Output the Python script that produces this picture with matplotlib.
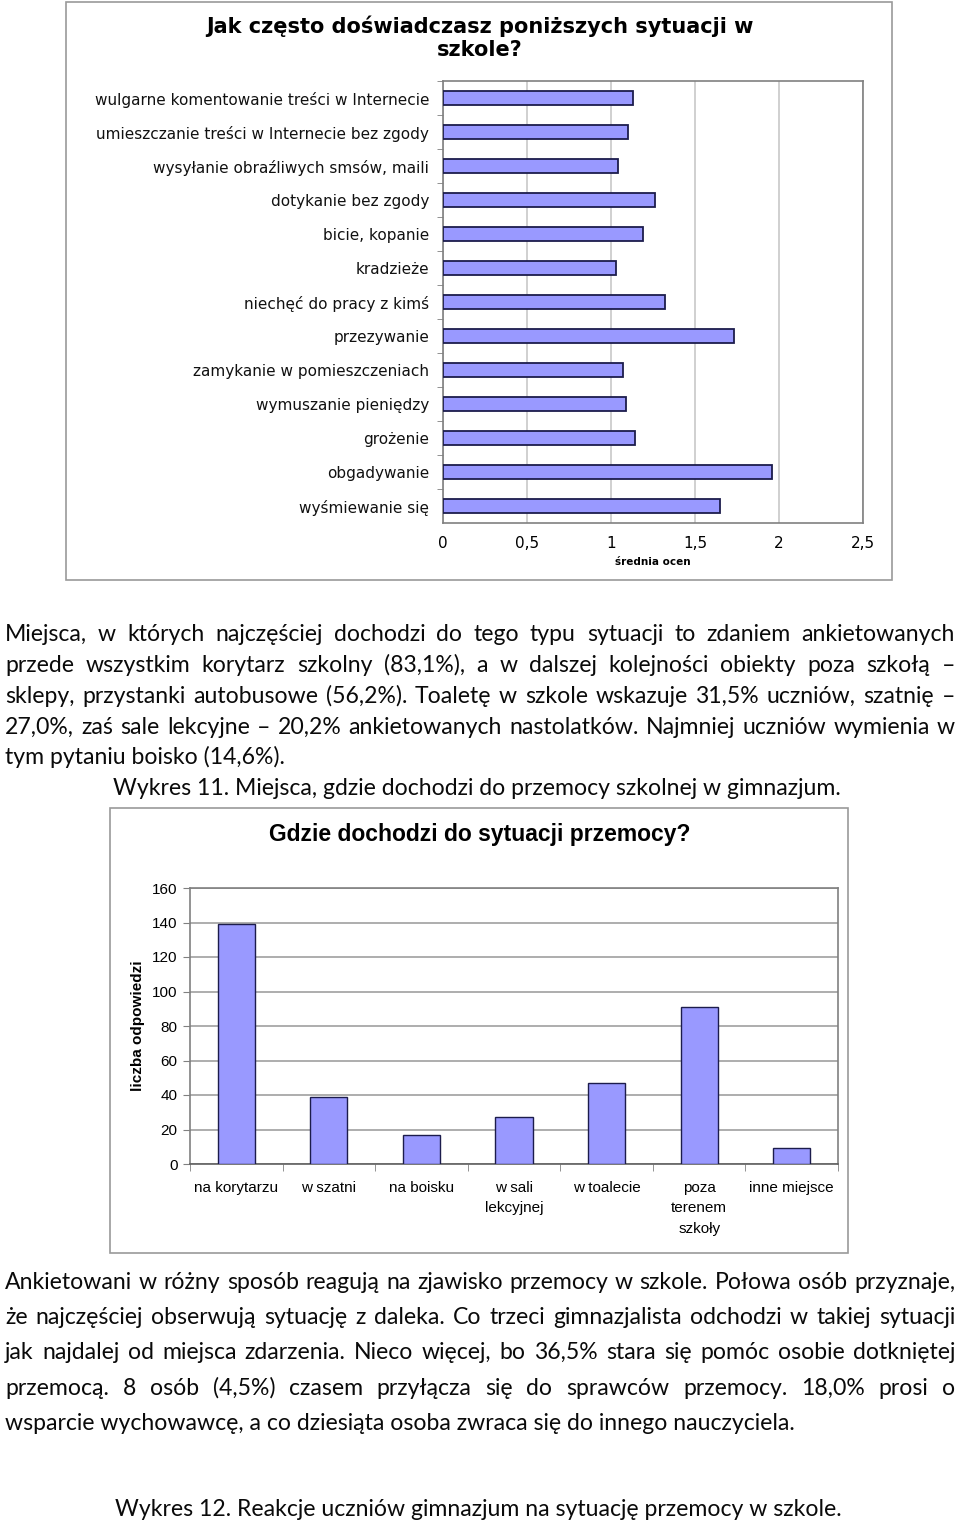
import matplotlib
matplotlib.use("Agg")
import matplotlib.pyplot as plt
from matplotlib.patches import Rectangle

W, H = 960, 1525

# chart 1 data (top to bottom)
sytuacje = ["wulgarne komentowanie treści w Internecie",
            "umieszczanie treści w Internecie bez zgody",
            "wysyłanie obraźliwych smsów, maili",
            "dotykanie bez zgody",
            "bicie, kopanie",
            "kradzieże",
            "niechęć do pracy z kimś",
            "przezywanie",
            "zamykanie w pomieszczeniach",
            "wymuszanie pieniędzy",
            "grożenie",
            "obgadywanie",
            "wyśmiewanie się"]
srednia = [1.13, 1.10, 1.04, 1.26, 1.19, 1.03, 1.32, 1.73, 1.07, 1.09, 1.14, 1.96, 1.65]
x_ticks = [0, 0.5, 1, 1.5, 2, 2.5]
x_labels = ["0", "0,5", "1", "1,5", "2", "2,5"]

# chart 2 data
miejsca = ["na korytarzu", "w szatni", "na boisku", "w sali\nlekcyjnej",
           "w toalecie", "poza\nterenem\nszkoły", "inne miejsce"]
odpowiedzi = [139, 39, 17, 27, 47, 91, 9]

para1 = ["Miejsca, w których najczęściej dochodzi do tego typu sytuacji to zdaniem ankietowanych",
         "przede wszystkim korytarz szkolny (83,1%), a w dalszej kolejności obiekty poza szkołą –",
         "sklepy, przystanki autobusowe (56,2%). Toaletę w szkole wskazuje 31,5% uczniów, szatnię –",
         "27,0%, zaś sale lekcyjne – 20,2% ankietowanych nastolatków. Najmniej uczniów wymienia w",
         "tym pytaniu boisko (14,6%)."]
para2 = ["Ankietowani w różny sposób reagują na zjawisko przemocy w szkole. Połowa osób przyznaje,",
         "że najczęściej obserwują sytuację z daleka. Co trzeci gimnazjalista odchodzi w takiej sytuacji",
         "jak najdalej od miejsca zdarzenia. Nieco więcej, bo 36,5% stara się pomóc osobie dotkniętej",
         "przemocą. 8 osób (4,5%) czasem przyłącza się do sprawców przemocy. 18,0% prosi o",
         "wsparcie wychowawcę, a co dziesiąta osoba zwraca się do innego nauczyciela."]

fig = plt.figure(figsize=(W / 100, H / 100), dpi=100)
fig.patch.set_facecolor("white")

def fx(x):
    return x / W

def fy(y):
    return 1 - y / H

def frame(x0, y0, x1, y1):
    fig.patches.append(Rectangle((fx(x0), fy(y1)), fx(x1) - fx(x0), fy(y0) - fy(y1),
                                 transform=fig.transFigure, fill=False,
                                 edgecolor="#9a9a9a", lw=1.2))

bar_face = "#9999ff"
bar_edge = "#1c1c4c"
body_font = "Lato"
body_size = 16.6
body_color = "#0a0a0a"

# ---------- chart 1 ----------
frame(66, 2, 892, 580)
fig.text(fx(480), fy(33), "Jak często doświadczasz poniższych sytuacji w",
         ha="center", va="baseline", fontsize=15, fontweight="bold", family="DejaVu Sans")
fig.text(fx(480), fy(56), "szkole?",
         ha="center", va="baseline", fontsize=15, fontweight="bold", family="DejaVu Sans")

ax1 = fig.add_axes([fx(443), fy(523), fx(863) - fx(443), fy(81) - fy(523)])
pos = list(range(len(sytuacje)))
ax1.barh(pos, srednia, height=0.4, color=bar_face, edgecolor=bar_edge, lw=1.3, zorder=3)
ax1.set_ylim(len(sytuacje) - 0.5, -0.5)
ax1.set_xlim(0, 2.5)
ax1.set_yticks(pos)
ax1.set_yticklabels(sytuacje, fontsize=11, family="DejaVu Sans", color="#111111")
ax1.tick_params(axis="y", length=0, pad=10)
ax1.set_yticks([p + 0.5 for p in pos[:-1]] + [-0.5], minor=True)
ax1.tick_params(axis="y", which="minor", length=4, color="#808080")
ax1.set_xticks(x_ticks)
ax1.set_xticklabels(x_labels, fontsize=11, family="DejaVu Sans")
ax1.tick_params(axis="x", length=0, pad=9)
ax1.set_xlabel("średnia ocen", fontsize=7.5, fontweight="bold", family="DejaVu Sans", labelpad=5)
ax1.grid(axis="x", color="#c8c8c8", lw=1.2, zorder=0)
for s in ax1.spines.values():
    s.set_color("#808080")
    s.set_linewidth(1.2)

# ---------- text paragraphs ----------
renderer = fig.canvas.get_renderer()

def justify(lines, baselines, x0=5, x1=955):
    for i, line in enumerate(lines):
        y = fy(baselines[i])
        if i == len(lines) - 1:
            fig.text(fx(x0), y, line, ha="left", va="baseline", fontsize=body_size,
                     family=body_font, color=body_color)
            continue
        words = line.split(" ")
        ts = [fig.text(0, y, w, ha="left", va="baseline", fontsize=body_size,
                       family=body_font, color=body_color) for w in words]
        widths = [t.get_window_extent(renderer).width for t in ts]
        gap = (x1 - x0 - sum(widths)) / (len(words) - 1)
        x = x0
        for t, w in zip(ts, widths):
            t.set_x(fx(x))
            x += w + gap

justify(para1, [641, 672, 703, 734, 764])
fig.text(fx(113), fy(795), "Wykres 11. Miejsca, gdzie dochodzi do przemocy szkolnej w gimnazjum.",
         ha="left", va="baseline", fontsize=body_size, family=body_font, color=body_color)

# ---------- chart 2 ----------
frame(110, 808, 848, 1253)
fig.text(fx(480), fy(834), "Gdzie dochodzi do sytuacji przemocy?", ha="center", va="center",
         fontsize=16.5, fontweight="bold", family="Liberation Sans")

ax2 = fig.add_axes([fx(190), fy(1164), fx(838) - fx(190), fy(888) - fy(1164)])
xpos = list(range(len(miejsca)))
ax2.bar(xpos, odpowiedzi, width=0.4, color=bar_face, edgecolor=bar_edge, lw=1.0, zorder=3)
ax2.set_xlim(-0.5, len(miejsca) - 0.5)
ax2.set_ylim(0, 160)
ax2.set_yticks(range(0, 161, 20))
ax2.tick_params(axis="y", labelsize=11, length=5, color="#808080", pad=4)
for lab in ax2.get_yticklabels():
    lab.set_family("Liberation Sans")
ax2.set_xticks(xpos)
ax2.set_xticklabels(miejsca, fontsize=11, family="Liberation Sans", linespacing=1.6, va="top")
ax2.tick_params(axis="x", length=0, pad=12)
ax2.set_xticks([p + 0.5 for p in xpos[:-1]] + [-0.5, len(miejsca) - 0.5], minor=True)
ax2.tick_params(axis="x", which="minor", length=5, color="#808080")
ax2.set_ylabel("liczba odpowiedzi", fontsize=11, fontweight="bold", family="Liberation Sans",
               labelpad=5)
ax2.grid(axis="y", color="#a0a0a0", lw=1.2, zorder=0)
for s in ax2.spines.values():
    s.set_color("#808080")
    s.set_linewidth(1.2)
ax2.spines["bottom"].set_color("#606060")

justify(para2, [1289, 1324, 1359, 1395, 1430])
fig.text(fx(115), fy(1516), "Wykres 12. Reakcje uczniów gimnazjum na sytuację przemocy w szkole.",
         ha="left", va="baseline", fontsize=body_size, family=body_font, color=body_color)

fig.savefig("out.png", dpi=100)
